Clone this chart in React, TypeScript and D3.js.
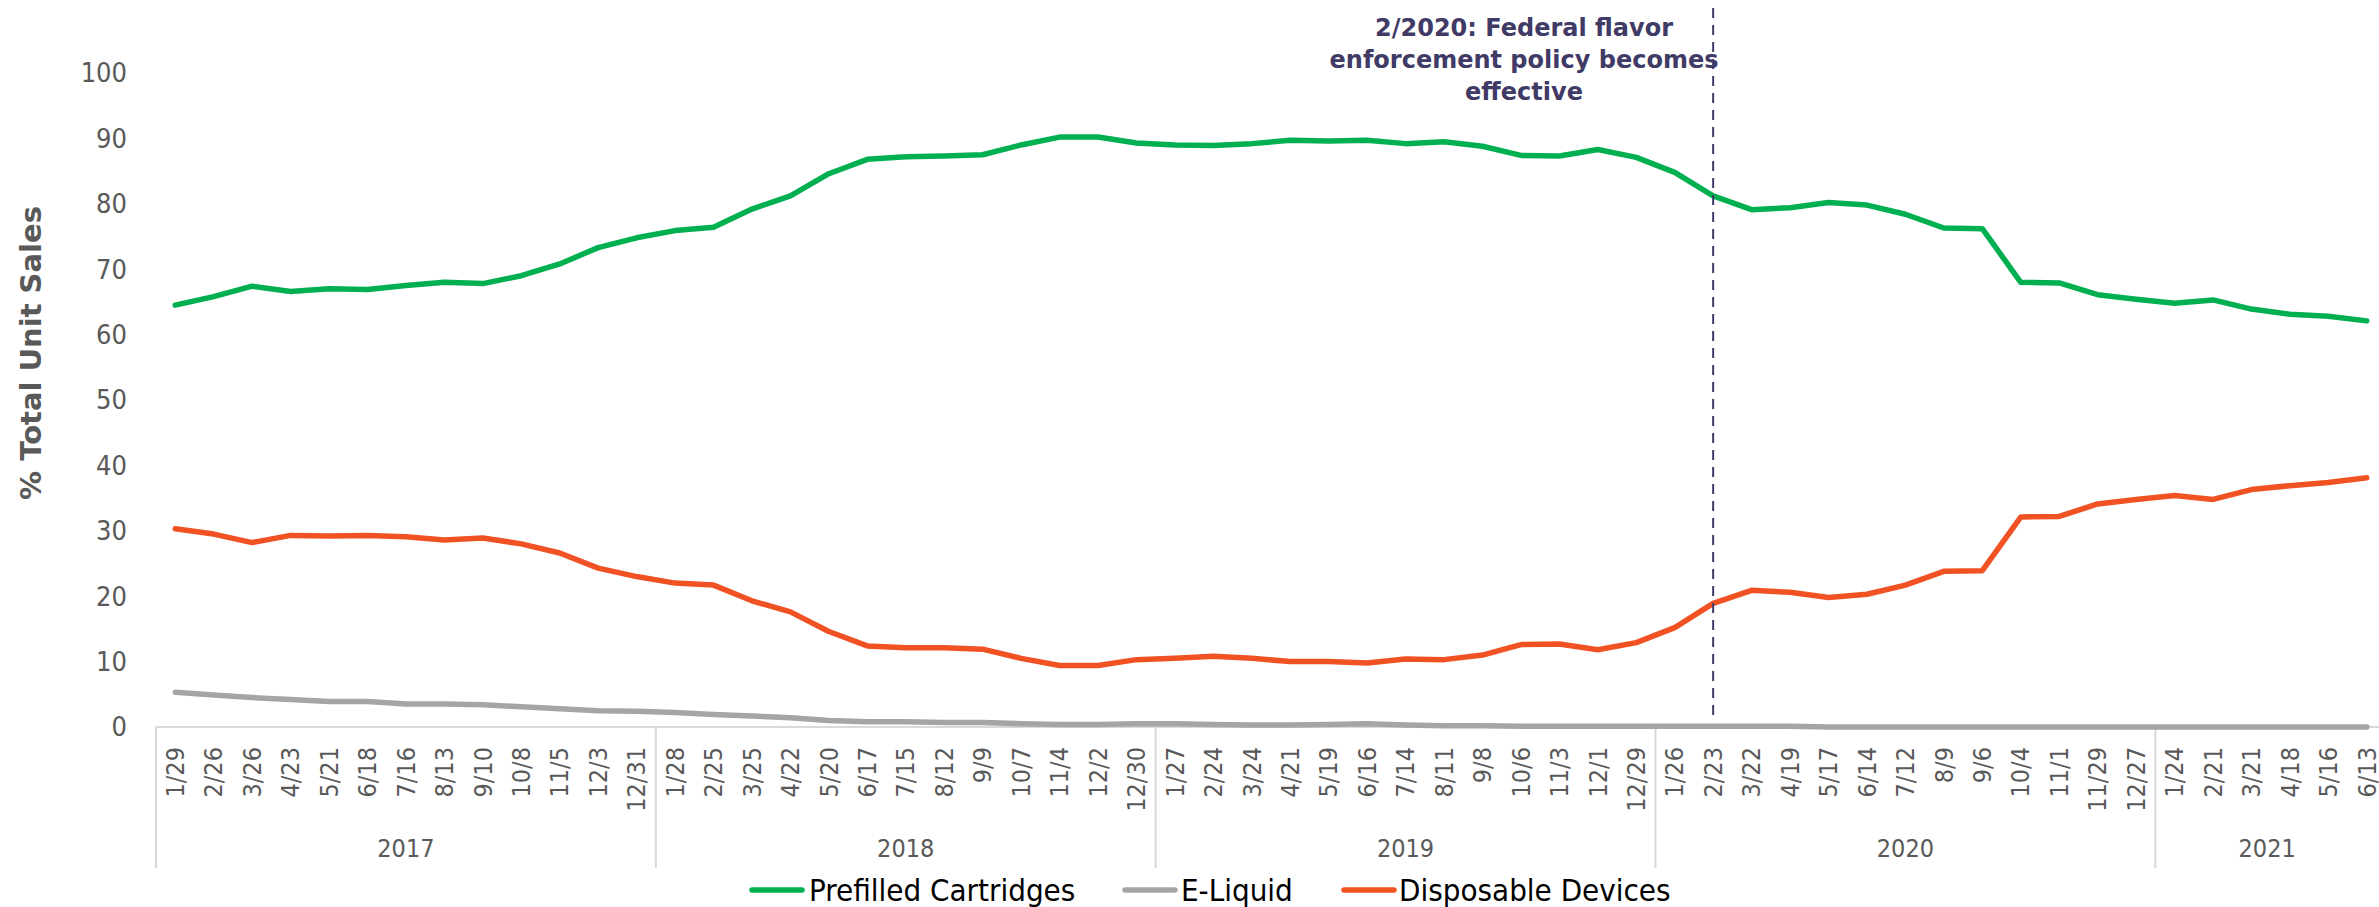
import * as d3 from "d3";

const years = ["2017", "2018", "2019", "2020", "2021"];
const weeks2017 = ["1/29", "2/26", "3/26", "4/23", "5/21", "6/18", "7/16", "8/13", "9/10", "10/8", "11/5", "12/3", "12/31"];
const weeks2018 = ["1/28", "2/25", "3/25", "4/22", "5/20", "6/17", "7/15", "8/12", "9/9", "10/7", "11/4", "12/2", "12/30"];
const weeks2019 = ["1/27", "2/24", "3/24", "4/21", "5/19", "6/16", "7/14", "8/11", "9/8", "10/6", "11/3", "12/1", "12/29"];
const weeks2020 = ["1/26", "2/23", "3/22", "4/19", "5/17", "6/14", "7/12", "8/9", "9/6", "10/4", "11/1", "11/29", "12/27"];
const weeks2021 = ["1/24", "2/21", "3/21", "4/18", "5/16", "6/13"];
const weeksByYear = [weeks2017, weeks2018, weeks2019, weeks2020, weeks2021];

const prefilled = [
  64.5, 65.8, 67.4, 66.6, 67.0, 66.9, 67.5, 68.0, 67.8, 69.0, 70.8, 73.3, 74.8,
  75.9, 76.4, 79.2, 81.2, 84.6, 86.8, 87.2, 87.3, 87.5, 89.0, 90.2, 90.2, 89.3,
  89.0, 88.9, 89.2, 89.7, 89.6, 89.7, 89.2, 89.5, 88.8, 87.4, 87.3, 88.3, 87.1,
  84.8, 81.2, 79.1, 79.4, 80.2, 79.8, 78.4, 76.3, 76.2, 68.0, 67.9, 66.1, 65.4,
  64.8, 65.3, 63.9, 63.1, 62.8, 62.1,
];
const eLiquid = [
  5.3, 4.9, 4.5, 4.2, 3.9, 3.9, 3.5, 3.5, 3.4, 3.1, 2.8, 2.5, 2.4,
  2.2, 1.9, 1.7, 1.4, 1.0, 0.8, 0.8, 0.7, 0.7, 0.5, 0.4, 0.4, 0.5,
  0.5, 0.4, 0.3, 0.3, 0.4, 0.5, 0.3, 0.2, 0.2, 0.1, 0.1, 0.1, 0.1,
  0.1, 0.1, 0.1, 0.1, 0.0, 0.0, 0.0, 0.0, 0.0, 0.0, 0.0, 0.0, 0.0,
  0.0, 0.0, 0.0, 0.0, 0.0, 0.0,
];
const disposable = [
  30.3, 29.5, 28.2, 29.3, 29.2, 29.3, 29.1, 28.6, 28.9, 28.0, 26.6, 24.3, 23.0,
  22.0, 21.7, 19.3, 17.6, 14.6, 12.4, 12.1, 12.1, 11.9, 10.5, 9.4, 9.4, 10.3,
  10.5, 10.8, 10.5, 10.0, 10.0, 9.8, 10.4, 10.3, 11.0, 12.6, 12.7, 11.8, 12.9,
  15.2, 18.9, 20.9, 20.6, 19.8, 20.3, 21.7, 23.8, 23.9, 32.1, 32.2, 34.1, 34.8,
  35.4, 34.8, 36.3, 36.9, 37.4, 38.1,
];
const yTicks = [0, 10, 20, 30, 40, 50, 60, 70, 80, 90, 100];

const seriesNames = ["Prefilled Cartridges", "E-Liquid", "Disposable Devices"];
const seriesColors = ["#00b050", "#a5a5a5", "#f15223"];
const annotationLines = ["2/2020: Federal flavor", "enforcement policy becomes", "effective"];
const policyIndex = 40; // 2/23/2020

const W = 2379;
const H = 907;
const tickFont = "'DejaVu Sans Condensed', 'Liberation Sans Narrow', 'Liberation Sans', sans-serif";
const grey = "#595959";

export default function App() {
  const keys = weeksByYear.flatMap((ws, yi) => ws.map((w) => `${years[yi]}-${w}`));
  const x = d3.scaleBand<string>().domain(keys).range([156, 2386]);
  const y = d3.scaleLinear().domain([0, 100]).range([727, 73]);
  const cx = (i: number) => (x(keys[i]) ?? 0) + x.bandwidth() / 2;

  const line = d3
    .line<number>()
    .x((_, i) => cx(i))
    .y((d) => y(d));

  const series = [prefilled, eLiquid, disposable];

  // year group boundaries
  let acc = 0;
  const groups = weeksByYear.map((ws, yi) => {
    const start = acc;
    acc += ws.length;
    return { year: years[yi], start, end: acc };
  });
  const bx = (i: number) => (i < keys.length ? x(keys[i]) ?? 0 : x.range()[1]);

  const axisY = y(0);
  const px = cx(policyIndex);

  const legend = [
    { x: 749, tx: 809 },
    { x: 1122, tx: 1181 },
    { x: 1341, tx: 1399 },
  ];

  return (
    <svg
      width={W}
      height={H}
      style={{ position: "absolute", left: 0, top: 0, background: "#fff" }}
    >
      {/* y axis title */}
      <text
        transform={`translate(41,353) rotate(-90)`}
        textAnchor="middle"
        fontFamily="'DejaVu Sans', sans-serif"
        fontWeight="bold"
        fontSize={29}
        fill={grey}
      >
        % Total Unit Sales
      </text>

      {/* y tick labels */}
      {yTicks.map((t) => (
        <text
          key={t}
          x={127}
          y={y(t)}
          dy="0.35em"
          textAnchor="end"
          fontFamily={tickFont}
          fontSize={27}
          fill={grey}
        >
          {t}
        </text>
      ))}

      {/* x axis */}
      <line x1={156} x2={W} y1={axisY} y2={axisY} stroke="#d9d9d9" strokeWidth={2} />
      {groups.map((g, i) => (
        <line key={g.year} x1={bx(g.start)} x2={bx(g.start)} y1={axisY} y2={868} stroke="#d9d9d9" strokeWidth={2} />
      ))}

      {keys.map((k, i) => (
        <text
          key={k}
          transform={`translate(${cx(i)},747) rotate(-90)`}
          textAnchor="end"
          dy="0.35em"
          fontFamily={tickFont}
          fontSize={25}
          fill={grey}
        >
          {k.split("-")[1]}
        </text>
      ))}

      {groups.map((g) => (
        <text
          key={g.year}
          x={(bx(g.start) + Math.min(bx(g.end), W)) / 2}
          y={848}
          dy="0.35em"
          textAnchor="middle"
          fontFamily={tickFont}
          fontSize={25}
          fill={grey}
        >
          {g.year}
        </text>
      ))}

      {/* series */}
      {series.map((s, i) => (
        <path
          key={seriesNames[i]}
          d={line(s) ?? ""}
          fill="none"
          stroke={seriesColors[i]}
          strokeWidth={5.5}
          strokeLinejoin="round"
          strokeLinecap="round"
        />
      ))}

      {/* policy marker */}
      <line x1={px} x2={px} y1={8} y2={719} stroke="#3f3a66" strokeWidth={2} strokeDasharray="10,7" />
      {annotationLines.map((t, i) => (
        <text
          key={t}
          x={1524}
          y={28 + i * 32}
          dy="0.35em"
          textAnchor="middle"
          fontFamily="'DejaVu Sans', sans-serif"
          fontWeight="bold"
          fontSize={24}
          fill="#3f3a66"
        >
          {t}
        </text>
      ))}

      {/* legend */}
      {legend.map((l, i) => (
        <g key={seriesNames[i]}>
          <line x1={l.x + 3} x2={l.x + 53} y1={890} y2={890} stroke={seriesColors[i]} strokeWidth={5.5} strokeLinecap="round" />
          <text x={l.tx} y={890} dy="0.35em" fontFamily={tickFont} fontSize={31} fill="#000">
            {seriesNames[i]}
          </text>
        </g>
      ))}
    </svg>
  );
}
